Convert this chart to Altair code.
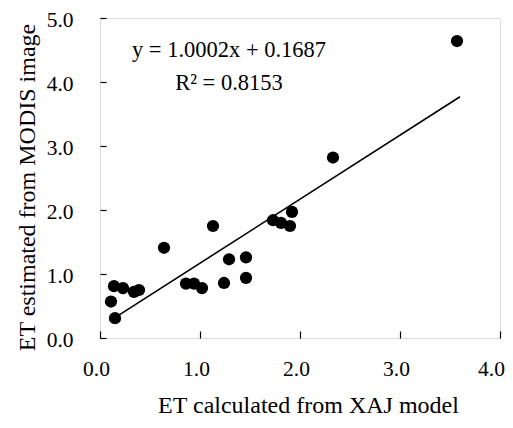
import altair as alt
import pandas as pd

# Data
xaj = [0.11, 0.15, 0.14, 0.23, 0.34, 0.39, 0.64, 0.86, 0.94, 1.02, 1.13, 1.24, 1.29,
       1.46, 1.46, 1.73, 1.81, 1.90, 1.92, 2.33, 3.57]
modis = [0.57, 0.31, 0.81, 0.78, 0.72, 0.75, 1.41, 0.85, 0.85, 0.78, 1.75, 0.86, 1.23,
         1.26, 0.94, 1.84, 1.80, 1.75, 1.97, 2.82, 4.64]
slope = 1.0002
intercept = 0.1687
line_x = [0.15, 3.6]
tick_vals_x = [0, 1, 2, 3, 4]
tick_vals_y = [0, 1, 2, 3, 4, 5]
ann_text = ["y = 1.0002x + 0.1687", "R\u00b2 = 0.8153"]
ann_x = [1.29, 1.29]
ann_y = [4.50, 3.98]

FONT = "Liberation Serif"

pts = pd.DataFrame({"x": xaj, "y": modis})
ln = pd.DataFrame({"x": line_x, "y": [slope * v + intercept for v in line_x]})
ann = pd.DataFrame({"x": ann_x, "y": ann_y, "t": ann_text})

xs = alt.Scale(domain=[0, 4], nice=False, zero=False)
ys = alt.Scale(domain=[0, 5], nice=False, zero=False)

points = alt.Chart(pts).mark_circle(size=150, color="black", opacity=1).encode(
    x=alt.X("x:Q", scale=xs, axis=alt.Axis(
        title="ET calculated from XAJ model", values=tick_vals_x, format=".1f",
        ticks=False, tickSize=0, labelPadding=20, labelFlush=False, domain=False, grid=False,
        labelOffset={"condition": {"test": "datum.value === 4", "value": -9}, "value": -4},
        labelFontSize=21.5, titleFontSize=24, titlePadding=14, titleX=208,
        labelFont=FONT, titleFont=FONT, titleFontWeight="normal",
        labelColor="black", titleColor="black")),
    y=alt.Y("y:Q", scale=ys, axis=alt.Axis(
        title="ET estimated from MODIS image", values=tick_vals_y, format=".1f",
        ticks=False, tickSize=0, labelPadding=27, labelFlush=False, domain=False, grid=False,
        labelOffset=2,
        labelFontSize=21.5, titleFontSize=24, titlePadding=7, titleY=169,
        labelFont=FONT, titleFont=FONT, titleFontWeight="normal",
        labelColor="black", titleColor="black")),
)

line = alt.Chart(ln).mark_line(color="black", strokeWidth=1.6).encode(
    x=alt.X("x:Q", scale=xs, axis=alt.Axis(
        orient="top", offset=-320, labels=False, domain=False, grid=False,
        values=tick_vals_x, tickSize=7, tickColor="black", tickWidth=1.2, title=None)),
    y=alt.Y("y:Q", scale=ys, axis=alt.Axis(
        orient="right", offset=-400, labels=False, domain=False, grid=False,
        values=tick_vals_y, tickSize=6, tickColor="black", tickWidth=1.2, title=None)),
)

text = alt.Chart(ann).mark_text(font=FONT, fontSize=22.5, color="black").encode(
    x=alt.X("x:Q", scale=xs, axis=None),
    y=alt.Y("y:Q", scale=ys, axis=None),
    text="t:N",
)

chart = alt.layer(points, line, text).resolve_axis(
    x="independent", y="independent"
).properties(
    width=400, height=320,
    autosize=alt.AutoSizeParams(type="none"),
    padding={"left": 92, "top": 10, "right": 5, "bottom": 82},
).configure_view(
    stroke="black", strokeWidth=1.5
).configure(font=FONT, background="white")

chart.save("out.html", embed_options={"renderer": "svg", "actions": False})
